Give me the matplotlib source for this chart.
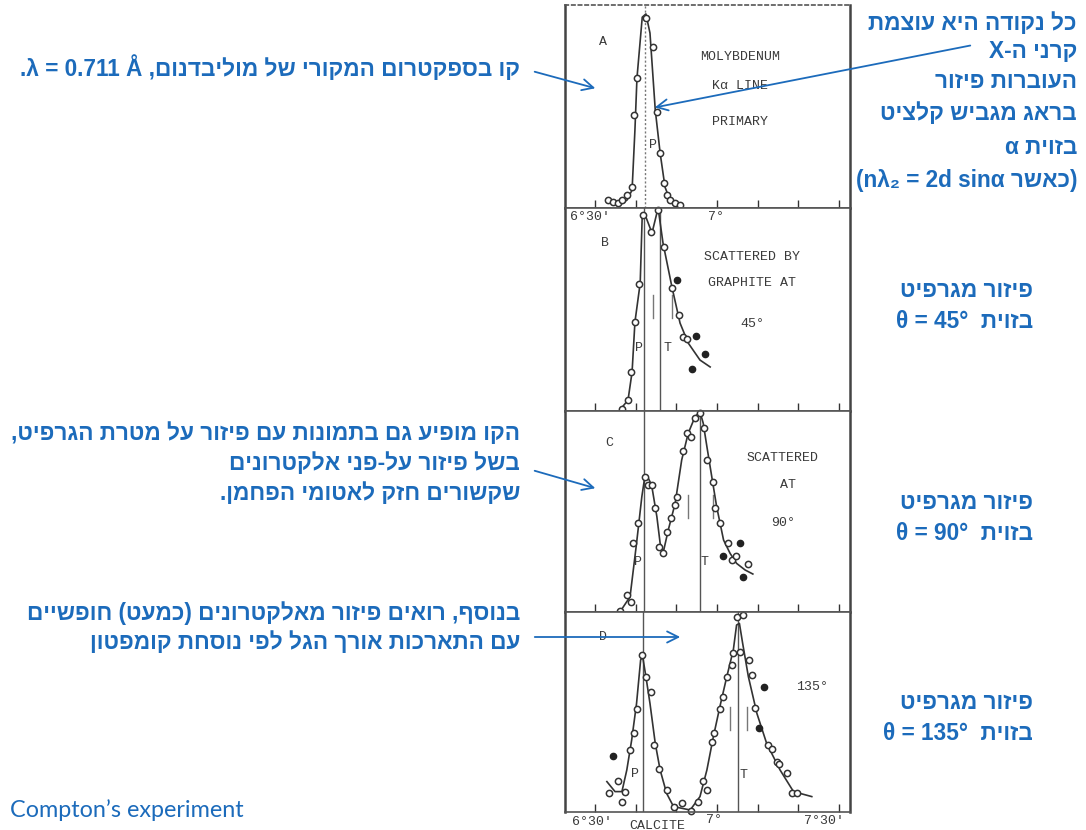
import numpy as np
import matplotlib
matplotlib.use('Agg')
import matplotlib.pyplot as plt

# ---------------- data (x in arc-minutes past 6 deg, y = relative intensity)
A_x = [33.2, 34.4, 35.7, 36.6, 37.9, 39.1, 39.6, 40.3, 42.5, 44.3, 45.2, 46.0, 47.0, 47.7, 48.4, 49.7, 50.9]
A_y = [0.04, 0.03, 0.025, 0.04, 0.064, 0.103, 0.458, 0.64, 0.936, 0.793, 0.473, 0.271, 0.123, 0.064, 0.04, 0.025, 0.015]
A_cx = [36.1, 37.9, 39.1, 39.8, 40.3, 41.6, 42.5, 43.5, 44.8, 46.0, 47.2, 48.4, 50.9]
A_cy = [0.015, 0.04, 0.089, 0.384, 0.64, 0.94, 0.956, 0.862, 0.483, 0.271, 0.103, 0.04, 0.015]

B_x = [36.6, 38.1, 38.9, 39.8, 40.8, 41.8, 43.8, 45.5, 47.0, 48.9, 50.7, 51.6, 52.6]
B_y = [0.01, 0.054, 0.192, 0.438, 0.626, 0.966, 0.882, 0.99, 0.808, 0.606, 0.473, 0.365, 0.355]
B_fx = [50.2, 54.8, 57.0, 53.9]
B_fy = [0.645, 0.369, 0.281, 0.207]
B_cx = [36.1, 38.1, 39.1, 39.8, 41.1, 41.6, 42.3, 44.0, 45.5, 46.7, 48.9, 50.9, 52.9, 55.8, 58.3]
B_cy = [0.005, 0.054, 0.192, 0.438, 0.631, 0.966, 0.966, 0.877, 1.0, 0.828, 0.611, 0.433, 0.335, 0.251, 0.217]

C_x = [36.1, 37.8, 38.9, 39.4, 40.6, 42.3, 42.9, 43.9, 44.8, 45.8, 46.8, 47.8, 48.6, 49.7, 50.2, 51.6,
       52.7, 53.6, 54.6, 55.8, 56.8, 57.6, 58.9, 59.5, 60.7, 62.8, 63.6, 64.7, 67.7]
C_y = [0.005, 0.085, 0.051, 0.342, 0.441, 0.673, 0.632, 0.632, 0.516, 0.325, 0.292, 0.4, 0.466, 0.532, 0.571, 0.802,
       0.892, 0.869, 0.964, 0.989, 0.914, 0.756, 0.648, 0.516, 0.441, 0.342, 0.259, 0.279, 0.239]
C_fx = [61.5, 65.7, 66.5]
C_fy = [0.279, 0.342, 0.176]
C_cx = [36.1, 38.6, 40.2, 41.5, 42.3, 42.9, 43.9, 45.2, 46.0, 46.8, 48.0, 49.7, 51.3, 52.9, 54.6, 55.8,
        56.6, 57.5, 58.7, 59.9, 61.6, 63.2, 64.8, 66.9, 68.8]
C_cy = [0.0, 0.076, 0.342, 0.574, 0.682, 0.673, 0.632, 0.474, 0.342, 0.3, 0.408, 0.541, 0.756, 0.889, 0.972, 0.997,
        0.939, 0.823, 0.673, 0.524, 0.358, 0.292, 0.242, 0.209, 0.189]

D_x = [33.5, 35.7, 36.6, 37.4, 38.6, 39.6, 40.4, 41.5, 42.5, 43.7, 44.5, 45.6, 47.6, 49.3, 51.3, 53.5, 55.4,
       56.6, 57.5, 58.7, 59.3, 60.7, 61.4, 62.4, 63.6, 64.0, 64.8, 65.7, 66.3, 67.9, 68.5, 69.3, 72.6, 73.4,
       74.8, 75.3, 77.1, 78.4, 79.6]
D_y = [0.097, 0.157, 0.052, 0.102, 0.31, 0.393, 0.513, 0.785, 0.677, 0.602, 0.335, 0.213, 0.11, 0.027, 0.047,
       0.007, 0.052, 0.157, 0.11, 0.352, 0.393, 0.513, 0.573, 0.677, 0.735, 0.793, 0.977, 0.802, 0.985, 0.76,
       0.685, 0.518, 0.335, 0.313, 0.252, 0.24, 0.193, 0.093, 0.093]
D_fx = [34.3, 70.4, 71.6]
D_fy = [0.282, 0.418, 0.623]
D_cx = [32.9, 34.9, 36.6, 37.8, 39.0, 40.2, 41.2, 41.7, 42.5, 43.5, 44.8, 46.0, 47.6, 49.3, 53.4, 55.8, 57.5,
        59.1, 60.7, 62.4, 64.0, 64.8, 65.5, 66.3, 67.7, 69.8, 72.2, 75.5, 78.8, 83.3]
D_cy = [0.152, 0.102, 0.102, 0.21, 0.36, 0.543, 0.76, 0.777, 0.677, 0.543, 0.343, 0.21, 0.093, 0.027, 0.01,
        0.077, 0.21, 0.377, 0.527, 0.677, 0.81, 0.935, 0.943, 0.843, 0.677, 0.493, 0.343, 0.21, 0.102, 0.077]

# primary (P) and shifted (T) line positions, arc-minutes
P_line = [42.3, 42.0, 42.0, 41.9]
T_line = [None, 46.0, 55.8, 65.2]
# short double marks near the T line
marks = [[], [44.3, 48.9], [52.9, 59.0], [63.2, 67.4]]
marks_y = [None, (0.46, 0.57), (0.47, 0.58), (0.41, 0.525)]

ticks = [30, 40, 50, 60, 70, 80, 90]

W, H = 1086, 830
blue = '#1c6bbb'
ink = '#333333'
mono = 'Liberation Mono'
heb_font = ['Liberation Sans', 'DejaVu Sans']


def heb(s):
    # matplotlib has no bidi: lay the hebrew out right-to-left by hand
    return s[::-1].translate(str.maketrans('()', ')('))


fig = plt.figure(figsize=(W / 100, H / 100), dpi=100)
fig.patch.set_facecolor('white')

panels_px = [(5, 208), (208, 411), (411, 612), (612, 812)]
pts = [(A_x, A_y, [], []), (B_x, B_y, B_fx, B_fy), (C_x, C_y, C_fx, C_fy), (D_x, D_y, D_fx, D_fy)]
curves = [(A_cx, A_cy), (B_cx, B_cy), (C_cx, C_cy), (D_cx, D_cy)]
axes = []
for i, (top, bot) in enumerate(panels_px):
    ax = fig.add_axes([565 / W, 1 - bot / H, 285 / W, (bot - top) / H])
    ax.set_xlim(22.6, 92.7)
    ax.set_ylim(0, 1)
    ax.set_xticks(ticks)
    ax.set_yticks([])
    ax.tick_params(axis='x', direction='in', length=6, width=1, color=ink,
                   labelbottom=False, top=False)
    for side in ['left', 'right']:
        ax.spines[side].set_linewidth(1.8)
        ax.spines[side].set_color('#444444')
    for side in ['top', 'bottom']:
        ax.spines[side].set_linewidth(1.2)
        ax.spines[side].set_color('#555555')
    if i == 0:
        ax.spines['top'].set_linestyle((0, (2, 2)))
        ax.axvline(P_line[i], color='#777777', lw=1, ls=(0, (1.5, 1.5)))
    else:
        ax.axvline(P_line[i], color='#555555', lw=1)
        ax.axvline(T_line[i], color='#555555', lw=1)
        for mx in marks[i]:
            ax.plot([mx, mx], marks_y[i], color='#777777', lw=1)
    cx, cy = curves[i]
    ax.plot(cx, cy, '-', color=ink, lw=1.2, clip_on=False)
    x, y, fx, fy = pts[i]
    ax.plot(x, y, 'o', ms=4.5, mfc='white', mec=ink, mew=1.1, clip_on=False)
    if fx:
        ax.plot(fx, fy, 'o', ms=4.5, mfc='#222222', mec='#222222', clip_on=False)
    axes.append(ax)

tt = dict(family=mono, color='#3a3a3a', fontsize=9.5, ha='center', va='center')
axA, axB, axC, axD = axes
axA.text(32.0, 0.82, 'A', **tt)
axA.text(65.7, 0.744, 'MOLYBDENUM', **tt)
axA.text(65.7, 0.60, 'Kα LINE', **tt)
axA.text(65.7, 0.424, 'PRIMARY', **tt)
axA.text(44.3, 0.31, 'P', **tt)
axB.text(28.8, 0.955, "6°30'", **tt)
axB.text(59.8, 0.955, '7°', **tt)
axB.text(32.5, 0.83, 'B', **tt)
axB.text(68.6, 0.76, 'SCATTERED BY', **tt)
axB.text(68.6, 0.63, 'GRAPHITE AT', **tt)
axB.text(68.6, 0.43, '45°', **tt)
axB.text(40.8, 0.31, 'P', **tt)
axB.text(47.7, 0.31, 'T', **tt)
axC.text(33.4, 0.84, 'C', **tt)
axC.text(76.0, 0.766, 'SCATTERED', **tt)
axC.text(77.5, 0.632, 'AT', **tt)
axC.text(76.2, 0.443, '90°', **tt)
axC.text(40.6, 0.25, 'P', **tt)
axC.text(57.0, 0.25, 'T', **tt)
axD.text(32.0, 0.875, 'D', **tt)
axD.text(83.4, 0.625, '135°', **tt)
axD.text(39.8, 0.19, 'P', **tt)
axD.text(66.6, 0.185, 'T', **tt)
axD.text(29.2, -0.05, "6°30'", **tt)
axD.text(45.2, -0.07, 'CALCITE', **tt)
axD.text(59.3, -0.04, '7°', **tt)
axD.text(86.2, -0.045, "7°30'", **tt)

# overlay in pixel coordinates for the annotations
ov = fig.add_axes([0, 0, 1, 1])
ov.set_xlim(0, W)
ov.set_ylim(H, 0)
ov.axis('off')

ht = dict(family=heb_font, weight='bold', color=blue, fontsize=16.3, va='center')

right_top = [heb('כל נקודה היא עוצמת'),
             heb('קרני ה-X'),
             heb('העוברות פיזור'),
             heb('בראג מגביש קלציט'),
             heb('בזוית α'),
             '(nλ₂ = 2d sinα ' + heb('כאשר') + ')']
for line, yy in zip(right_top, [23, 52, 82, 114, 147, 181]):
    ov.text(1077, yy, line, ha='right', **ht)

ov.text(520, 68, '.λ = 0.711 Å ,' + heb('קו בספקטרום המקורי של מוליבדנום'), ha='right', **ht)

mid = [heb('הקו מופיע גם בתמונות עם פיזור על מטרת הגרפיט,'),
       heb('בשל פיזור על-פני אלקטרונים'),
       heb('שקשורים חזק לאטומי הפחמן.')]
for line, yy in zip(mid, [433, 463, 493]):
    ov.text(520, yy, line, ha='right', **ht)

low = [heb('בנוסף, רואים פיזור מאלקטרונים (כמעט) חופשיים'),
       heb('עם התארכות אורך הגל לפי נוסחת קומפטון')]
for line, yy in zip(low, [613, 642]):
    ov.text(520, yy, line, ha='right', **ht)

angles = ['45', '90', '135']
for ang, yy in zip(angles, [290, 502, 702]):
    ov.text(1033, yy, heb('פיזור מגרפיט'), ha='right', **ht)
    ov.text(1033, yy + 31, 'θ = ' + ang + '°  ' + heb('בזוית'), ha='right', **ht)

ov.text(10, 810, 'Compton’s experiment', family=['Lato', 'DejaVu Sans'], color=blue,
        fontsize=16.8, ha='left', va='center')

arr = dict(arrowstyle='->', color=blue, lw=1.3, mutation_scale=20)
ov.annotate('', xy=(598, 89), xytext=(532, 71), arrowprops=arr)
ov.annotate('', xy=(652, 108), xytext=(973, 45), arrowprops=arr)
ov.annotate('', xy=(598, 489), xytext=(532, 470), arrowprops=arr)
ov.annotate('', xy=(683, 637), xytext=(532, 637), arrowprops=arr)

plt.savefig('out.png', dpi=100)
